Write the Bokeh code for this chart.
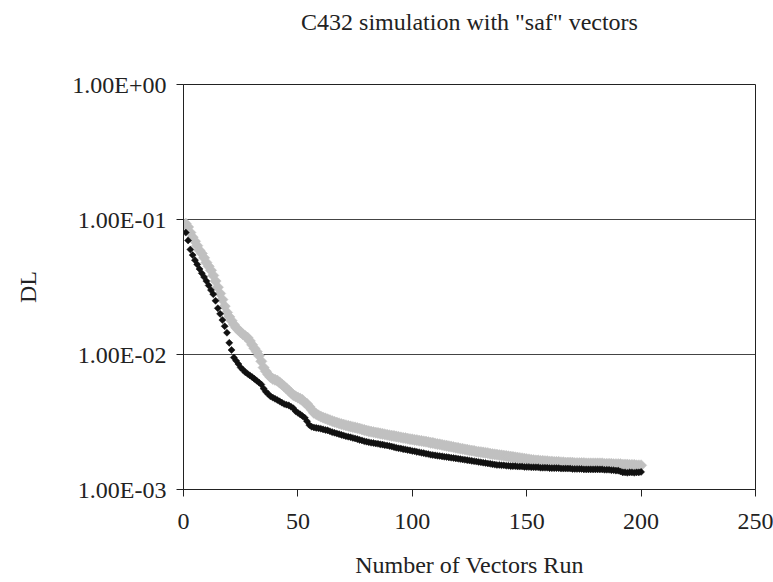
import math
from bokeh.plotting import figure
from bokeh.models import FixedTicker, CustomJSTickFormatter, ColumnDataSource, LinearAxis
from bokeh.embed import file_html
from bokeh.resources import INLINE

# ---- data ----
vectors = list(range(1, 201))

dl_black = [
    0.0800, 0.0700, 0.0600, 0.0545, 0.0500, 0.0465, 0.0430, 0.0400, 0.0375, 0.0350,
    0.0325, 0.0300, 0.0280, 0.0250, 0.0220, 0.0200, 0.0180, 0.0162, 0.0145, 0.0122,
    0.0108, 0.0095, 0.0090, 0.0085, 0.0080, 0.0077, 0.0074, 0.0072, 0.0070, 0.0068,
    0.0066, 0.0064, 0.0062, 0.0060, 0.0056, 0.0053, 0.0051, 0.0049, 0.0048, 0.0047,
    0.0046, 0.0045, 0.0044, 0.0043, 0.00425, 0.0042, 0.0041, 0.0040, 0.0038, 0.0037,
    0.0036, 0.0035, 0.0034, 0.0032, 0.0030, 0.00292, 0.00288, 0.00286, 0.00284, 0.00282,
    0.00279, 0.00276, 0.00274, 0.00270, 0.00266, 0.00263, 0.00260, 0.00257, 0.00254, 0.00251,
    0.00248, 0.00246, 0.00244, 0.00241, 0.00239, 0.00236, 0.00233, 0.00231, 0.00228, 0.00226,
    0.00224, 0.00222, 0.00221, 0.00219, 0.00218, 0.00216, 0.00215, 0.00213, 0.00212, 0.00210,
    0.00208, 0.00206, 0.00204, 0.00202, 0.00201, 0.00199, 0.00198, 0.00196, 0.00195, 0.00193,
    0.00192, 0.00190, 0.00189, 0.00187, 0.00186, 0.00184, 0.00183, 0.00181, 0.00180, 0.00179,
    0.00178, 0.00177, 0.00176, 0.00175, 0.00174, 0.00173, 0.00172, 0.00171, 0.00170, 0.00169,
    0.00168, 0.00167, 0.00166, 0.00165, 0.00164, 0.00163, 0.00162, 0.00161, 0.00160, 0.00159,
    0.00158, 0.00157, 0.00156, 0.00155, 0.00154, 0.00153, 0.00152, 0.00152, 0.00151, 0.00151,
    0.00150, 0.00150, 0.00149, 0.00149, 0.00149, 0.00148, 0.00148, 0.00148, 0.00147, 0.00147,
    0.00147, 0.00146, 0.00146, 0.00146, 0.00146, 0.00145, 0.00145, 0.00145, 0.00145, 0.00144,
    0.00144, 0.00144, 0.00144, 0.00144, 0.00143, 0.00143, 0.00143, 0.00143, 0.00143, 0.00142,
    0.00142, 0.00142, 0.00142, 0.00142, 0.00141, 0.00141, 0.00141, 0.00141, 0.00141, 0.00141,
    0.00141, 0.00141, 0.00141, 0.00140, 0.00140, 0.00140, 0.00139, 0.00139, 0.00138, 0.00138,
    0.00136, 0.00134, 0.00134, 0.00133, 0.00134, 0.00134, 0.00133, 0.00134, 0.00134, 0.00135,
]

dl_gray = [
    0.0930, 0.0880, 0.0800, 0.0740, 0.0690, 0.0640, 0.0590, 0.0560, 0.0520, 0.0480,
    0.0450, 0.0420, 0.0385, 0.0350, 0.0315, 0.0283, 0.0255, 0.0228, 0.0205, 0.0190,
    0.0178, 0.0167, 0.0158, 0.0152, 0.0146, 0.0141, 0.0137, 0.0133, 0.0126, 0.0118,
    0.0111, 0.0105, 0.0098, 0.0089, 0.0080, 0.0075, 0.0071, 0.0068, 0.0066, 0.0065,
    0.0064, 0.0062, 0.0060, 0.0058, 0.0056, 0.0054, 0.0052, 0.0050, 0.0049, 0.0048,
    0.0047, 0.0046, 0.0044, 0.0043, 0.0041, 0.0039, 0.0037, 0.00362, 0.00354, 0.00347,
    0.00341, 0.00336, 0.00331, 0.00326, 0.00321, 0.00317, 0.00313, 0.00309, 0.00305, 0.00302,
    0.00299, 0.00296, 0.00293, 0.00290, 0.00288, 0.00285, 0.00282, 0.00279, 0.00276, 0.00273,
    0.00270, 0.00268, 0.00266, 0.00264, 0.00262, 0.00260, 0.00258, 0.00256, 0.00254, 0.00252,
    0.00250, 0.00249, 0.00247, 0.00245, 0.00243, 0.00241, 0.00240, 0.00238, 0.00236, 0.00235,
    0.00233, 0.00232, 0.00230, 0.00229, 0.00227, 0.00226, 0.00224, 0.00222, 0.00221, 0.00219,
    0.00217, 0.00216, 0.00214, 0.00212, 0.00211, 0.00209, 0.00208, 0.00206, 0.00204, 0.00203,
    0.00201, 0.00200, 0.00198, 0.00197, 0.00195, 0.00194, 0.00193, 0.00191, 0.00190, 0.00189,
    0.00188, 0.00187, 0.00186, 0.00184, 0.00183, 0.00182, 0.00181, 0.00180, 0.00179, 0.00178,
    0.00177, 0.00176, 0.00175, 0.00174, 0.00173, 0.00172, 0.00171, 0.00170, 0.00169, 0.00168,
    0.00167, 0.00166, 0.00165, 0.00164, 0.00164, 0.00163, 0.00163, 0.00162, 0.00162, 0.00161,
    0.00161, 0.00160, 0.00160, 0.00160, 0.00159, 0.00159, 0.00158, 0.00158, 0.00158, 0.00158,
    0.00157, 0.00157, 0.00157, 0.00157, 0.00157, 0.00156, 0.00156, 0.00156, 0.00156, 0.00156,
    0.00156, 0.00156, 0.00156, 0.00155, 0.00155, 0.00155, 0.00155, 0.00154, 0.00154, 0.00154,
    0.00154, 0.00153, 0.00153, 0.00153, 0.00152, 0.00152, 0.00152, 0.00151, 0.00151, 0.00151,
]

x_ticks = [0, 50, 100, 150, 200, 250]
y_ticks = [0.001, 0.01, 0.1, 1.0]
y_tick_labels = ["1.00E-03", "1.00E-02", "1.00E-01", "1.00E+00"]

title_text = 'C432 simulation with "saf" vectors'
x_label = "Number of Vectors Run"
y_label = "DL"

FONT = "Liberation Serif"
FS = "24px"

p = figure(
    width=773, height=582,
    x_range=(0, 250), y_range=(0.001, 1.0),
    y_axis_type="log",
    output_backend="svg", toolbar_location=None,
    min_border_left=183, min_border_right=18,
    min_border_top=84, min_border_bottom=93,
)

p.background_fill_color = "white"
p.border_fill_color = "white"
p.outline_line_color = "#222222"
p.outline_line_width = 1

# grids
p.xgrid.visible = False
p.ygrid.ticker = FixedTicker(ticks=y_ticks)
p.ygrid.grid_line_color = "#444444"
p.ygrid.grid_line_width = 1

# axes
p.xaxis.ticker = FixedTicker(ticks=x_ticks)
p.yaxis.ticker = FixedTicker(ticks=y_ticks)
p.yaxis.formatter = CustomJSTickFormatter(
    args=dict(vals=y_ticks, labs=y_tick_labels),
    code="""
    let best = 0, bd = Infinity;
    for (let i = 0; i < vals.length; i++) {
        const d = Math.abs(Math.log10(vals[i]) - Math.log10(tick));
        if (d < bd) { bd = d; best = i; }
    }
    return labs[best];
    """,
)

for ax in (p.xaxis[0], p.yaxis[0]):
    ax.axis_line_color = "#222222"
    ax.major_tick_line_color = "#222222"
    ax.minor_tick_line_color = None
    ax.major_tick_out = 7
    ax.major_tick_in = 0
    ax.major_label_text_font = FONT
    ax.major_label_text_font_size = FS
    ax.major_label_text_color = "#222222"
    ax.axis_label_text_font = FONT
    ax.axis_label_text_font_size = FS
    ax.axis_label_text_font_style = "normal"
    ax.axis_label_text_color = "#222222"

p.xaxis.axis_label = x_label
p.yaxis.axis_label = y_label
p.xaxis.major_label_standoff = 17
p.xaxis.axis_label_standoff = 20
p.yaxis.major_label_standoff = 10
p.yaxis.axis_label_standoff = 28

# chart title: carried by a bare axis above the frame (no line, ticks or labels)
title_axis = LinearAxis(
    ticker=FixedTicker(ticks=[]),
    axis_line_color=None, major_tick_line_color=None, minor_tick_line_color=None,
    axis_label=title_text,
    axis_label_text_font=FONT, axis_label_text_font_size=FS,
    axis_label_text_font_style="normal", axis_label_text_color="#222222",
    axis_label_standoff=50,
)
p.add_layout(title_axis, "above")

src_g = ColumnDataSource(dict(x=vectors, y=dl_gray))
src_b = ColumnDataSource(dict(x=vectors, y=dl_black))

p.scatter("x", "y", source=src_g, marker="square", angle=math.pi / 4,
          size=8, fill_color="#c0c0c0", line_color="#c0c0c0", line_width=0.5)
p.scatter("x", "y", source=src_b, marker="square", angle=math.pi / 4,
          size=5.0, fill_color="#111111", line_color="#111111", line_width=0.5)

open("out.html", "w").write(file_html(p, INLINE))
